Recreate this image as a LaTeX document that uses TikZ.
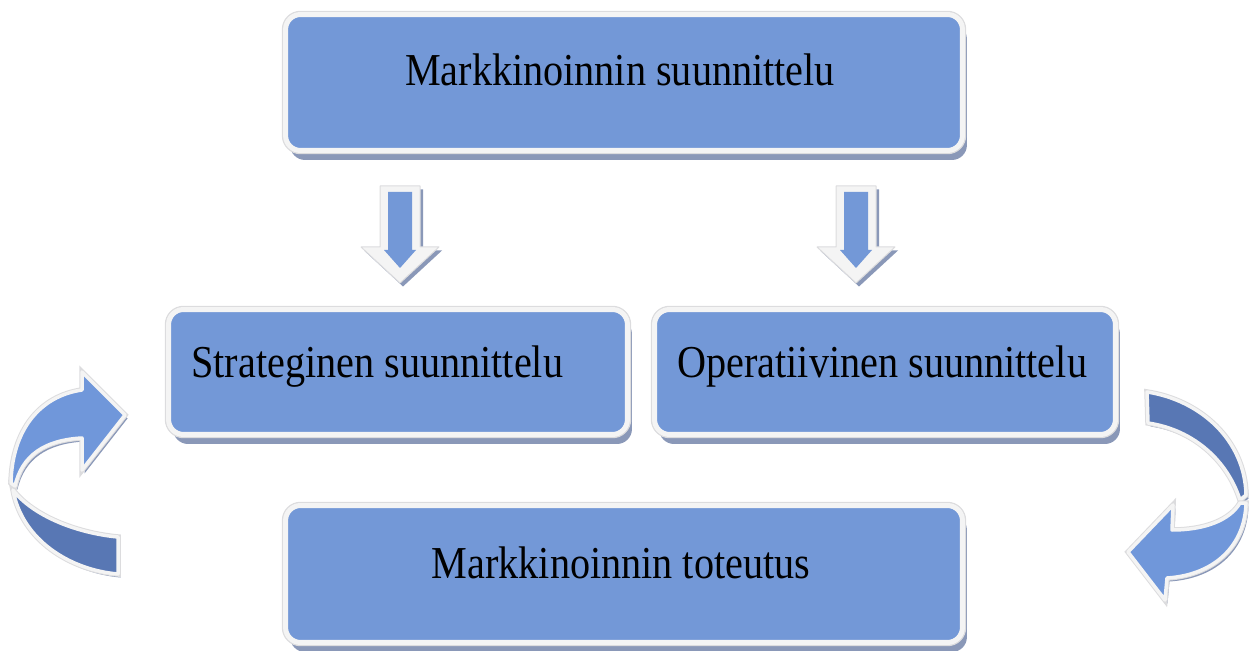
\documentclass[tikz,border=0pt]{standalone}
\usepackage{fontspec}
\setmainfont{Liberation Serif}[FakeStretch=0.88]
\usetikzlibrary{shadows}

\definecolor{boxblue}{RGB}{115,152,215}
\definecolor{frame}{RGB}{244,244,244}
\definecolor{rim}{RGB}{220,220,222}
\definecolor{shade}{RGB}{138,152,184}
\definecolor{lightarrow}{RGB}{112,151,218}
\definecolor{darkarrow}{RGB}{88,119,180}

\tikzset{
  panel/.style={rectangle, rounded corners=0.3cm, inner sep=0pt,
    fill=boxblue, draw=frame, line width=0.1cm,
    drop shadow={shadow xshift=0.09cm, shadow yshift=-0.19cm, fill=shade, opacity=1},
    preaction={draw=rim, line width=0.15cm}},
  boxtext/.style={inner sep=0pt, font=\fontsize{26}{31}\selectfont, text=black},
  bent/.style={fill=#1, draw=frame, line width=0.07cm, line join=round,
    preaction={fill=shade, transform canvas={shift={(0.05cm,-0.07cm)}}},
    preaction={draw=rim, line width=0.11cm}},
  pics/downblock/.style={code={
    \path[fill=frame, draw=rim, line width=0.02cm, line join=round,
          preaction={fill=shade, transform canvas={shift={(0.06cm,-0.07cm)}}}]
      (-20,186) -- (20,186) -- (20,247) -- (39,247) -- (0,283)
      -- (-39,247) -- (-20,247) -- cycle;
    \path[fill=boxblue]
      (-12,192) -- (12,192) -- (12,250) -- (16,250) -- (0,268)
      -- (-16,250) -- (-12,250) -- cycle;
  }},
}

\begin{document}
\begin{tikzpicture}[x=0.02cm, y=-0.02cm]
  \useasboundingbox (0,0) rectangle (1250,651);

  % the four planning boxes
  \node[panel, minimum width=13.54cm, minimum height=2.72cm] (plan) at (624,82.5) {};
  \node[panel, minimum width=9.18cm, minimum height=2.5cm] (strat) at (398,372) {};
  \node[panel, minimum width=9.22cm, minimum height=2.5cm] (oper) at (885,372) {};
  \node[panel, minimum width=13.54cm, minimum height=2.74cm] (exec) at (624,574) {};

  \node[boxtext, anchor=base] (plantext) at (620,86) {Markkinoinnin suunnittelu};
  \node[boxtext, anchor=base west] (strattext) at (191,378) {Strateginen suunnittelu};
  \node[boxtext, anchor=base west] (opertext) at (677,378) {Operatiivinen suunnittelu};
  \node[boxtext, anchor=base] (exectext) at (621,578) {Markkinoinnin toteutus};

  % downward block arrows from the planning box
  \pic at (400,0) {downblock};
  \pic at (856,0) {downblock};

  % left circular arrow: back part, then front part with head
  \path[bent=darkarrow]
    (13,490) .. controls (22,540) and (70,570) .. (118,574)
    -- (118,537) .. controls (75,533) and (32,515) .. (13,490) -- cycle;
  \path[bent=lightarrow]
    (82,390) .. controls (40,396) and (12,430) .. (11,483)
    -- (15,486) .. controls (22,455) and (45,440) .. (82,438)
    -- (82,470) -- (125,415) -- (82,372) -- cycle;

  % right circular arrow: back part, then front part with head
  \path[bent=darkarrow]
    (1147,392) .. controls (1200,400) and (1245,440) .. (1246,495)
    -- (1240,500) .. controls (1228,462) and (1195,430) .. (1148,423) -- cycle;
  \path[bent=lightarrow]
    (1246,503) .. controls (1245,545) and (1215,575) .. (1167,578)
    -- (1165,600) -- (1128,552) -- (1173,505) -- (1172,530)
    .. controls (1205,530) and (1230,520) .. (1240,503) -- cycle;
\end{tikzpicture}
\end{document}
